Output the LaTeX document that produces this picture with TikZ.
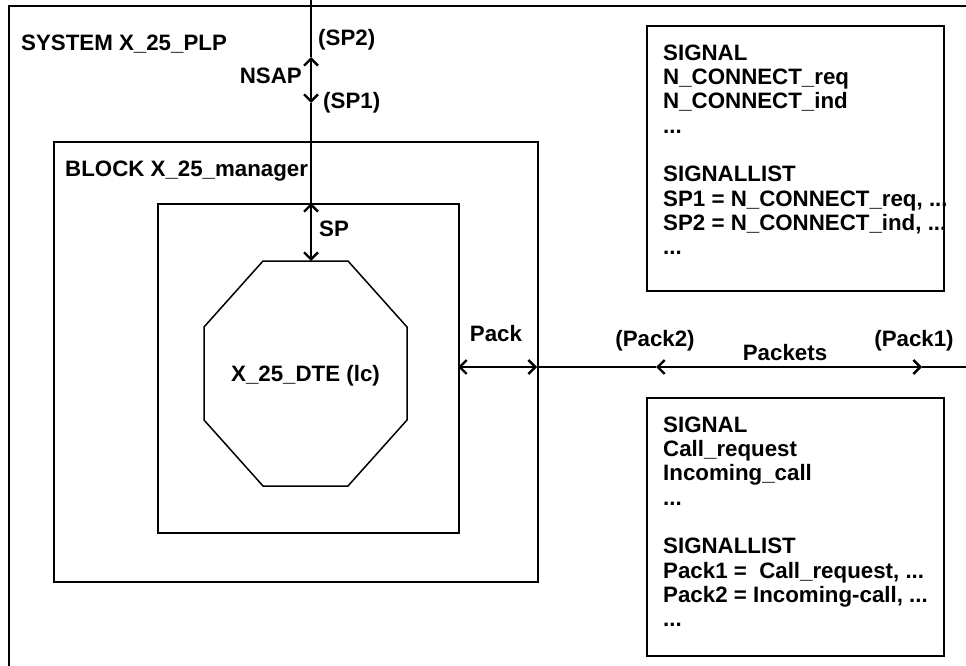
\documentclass[tikz,border=0pt]{standalone}
\usepackage{fontspec}
\setmainfont{Liberation Sans}
\usetikzlibrary{arrows.meta}
\begin{document}
\begin{tikzpicture}[x=1pt,y=-1pt,
  frame/.style={line width=2pt},
  thin frame/.style={line width=1.5pt},
  chan/.style={line width=2pt},
  tip/.style={-{Straight Barb[length=7pt,width=14pt,line width=2.4pt]}},
  dtip/.style={{Straight Barb[length=7pt,width=14pt,line width=2.4pt]}-{Straight Barb[length=7pt,width=14pt,line width=2.4pt]}},
  lbl/.style={font=\fontsize{22.3}{24.3}\selectfont\bfseries, inner sep=0pt},
  listtext/.style={font=\fontsize{22.3}{24.3}\selectfont\bfseries, inner sep=0pt, align=left, anchor=north west},
  sigbox/.style={draw, line width=1.6pt, anchor=north west, minimum width=297pt, minimum height=265pt, inner sep=0pt}
]
\useasboundingbox (0,0) rectangle (966,666);
% system frame (extends beyond the picture)
\draw[frame] (9,666) -- (9,6) -- (966,6);
\node[lbl, anchor=base west] (sys) at (21,51) {SYSTEM X\_25\_PLP};
% block frame
\node[draw, frame, anchor=north west, minimum width=484pt, minimum height=440pt, inner sep=0pt] (block) at (53,141) {};
\node[lbl, anchor=base west] (blk) at (65,176) {BLOCK X\_25\_manager};
% inner box
\node[draw, frame, anchor=north west, minimum width=301pt, minimum height=329pt, inner sep=0pt] (inner) at (157,203) {};
% octagon
\draw[thin frame] (263,261) -- (348,261) -- (407,327) -- (407,420) -- (348,486) -- (263,486) -- (204,420) -- (204,327) -- cycle;
\node[lbl] (dte) at (305.5,376) {X\_25\_DTE (lc)};
\coordinate (octtop) at (311,261);
\coordinate (top) at (311,0);
\coordinate (a1) at (311,57);
\coordinate (a2) at (311,103);
\coordinate (am) at (311,80);
\coordinate (innertop) at (311,203);
% NSAP channel
\draw[chan] (top) -- (a1);
\draw[chan,tip] (am) -- (a1);
\draw[chan,tip] (am) -- (a2);
\draw[chan] (a2) -- (innertop);
\draw[chan,dtip] (innertop) -- (octtop);
\node[lbl, anchor=base west] (sp2) at (318,46) {(SP2)};
\node[lbl, anchor=base east] (nsap) at (302,84) {NSAP};
\node[lbl, anchor=base west] (sp1) at (323,109) {(SP1)};
\node[lbl, anchor=base west] (sp) at (319,236) {SP};
% Pack channel
\coordinate (ir) at (458,367);
\coordinate (br) at (537,367);
\coordinate (p2) at (656,367);
\coordinate (p1) at (922,367);
\coordinate (rend) at (966,367);
\draw[chan,dtip] (ir) -- (br);
\draw[chan] (br) -- (p2);
\draw[chan,dtip] (p2) -- (p1);
\draw[chan] (p1) -- (rend);
\node[lbl, anchor=base] (pack) at (496,341) {Pack};
\node[lbl, anchor=base] (pk2) at (655,346) {(Pack2)};
\node[lbl, anchor=base] (pkts) at (785,360) {Packets};
\node[lbl, anchor=base] (pk1) at (914,346) {(Pack1)};
% signal boxes
\node[sigbox] (sigA) at (646,25) {};
\node[listtext] (txtA) at (663,44.5) {SIGNAL\\N\_CONNECT\_req\\N\_CONNECT\_ind\\...\\[24.3pt]SIGNALLIST\\SP1 = N\_CONNECT\_req, ...\\SP2 = N\_CONNECT\_ind, ...\\...};
\node[sigbox, minimum height=258pt] (sigB) at (646,397) {};
\node[listtext] (txtB) at (663,416.5) {SIGNAL\\Call\_request\\Incoming\_call\\...\\[24.3pt]SIGNALLIST\\Pack1 =\ \ Call\_request, ...\\Pack2 = Incoming-call, ...\\...};
\end{tikzpicture}
\end{document}
